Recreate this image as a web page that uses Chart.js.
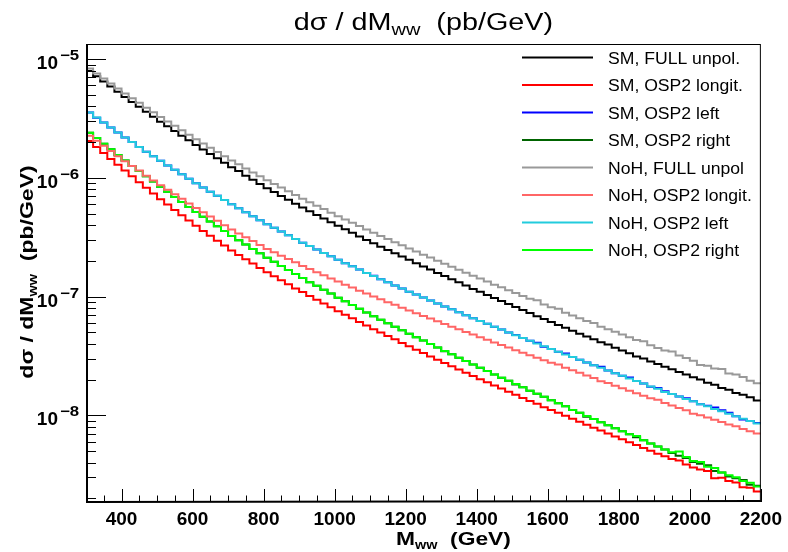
<!DOCTYPE html>
<html><head><meta charset="utf-8">
<script src="https://cdn.jsdelivr.net/npm/chart.js@4.4.1/dist/chart.umd.min.js"></script>
<style>html,body{margin:0;padding:0;background:#fff;}canvas{display:block;}</style>
</head><body>
<canvas id="c" width="788" height="552" style="width:788px;height:552px"></canvas>
<script>
// ---- data ----
const binEdges = [300,320,340,360,380,400,420,440,460,480,500,520,540,560,580,600,620,640,660,680,
700,720,740,760,780,800,820,840,860,880,900,920,940,960,980,1000,1020,1040,1060,1080,
1100,1120,1140,1160,1180,1200,1220,1240,1260,1280,1300,1320,1340,1360,1380,1400,1420,1440,1460,1480,
1500,1520,1540,1560,1580,1600,1620,1640,1660,1680,1700,1720,1740,1760,1780,1800,1820,1840,1860,1880,
1900,1920,1940,1960,1980,2000,2020,2040,2060,2080,2100,2120,2140,2160,2180,2200];

const smFull = [7.94e-6,7.18e-6,6.49e-6,5.87e-6,5.31e-6,4.80e-6,4.36e-6,3.96e-6,3.60e-6,3.27e-6,
2.97e-6,2.72e-6,2.48e-6,2.26e-6,2.07e-6,1.89e-6,1.73e-6,1.59e-6,1.46e-6,1.34e-6,
1.23e-6,1.14e-6,1.04e-6,9.64e-7,8.87e-7,8.18e-7,7.59e-7,7.03e-7,6.53e-7,6.05e-7,
5.61e-7,5.22e-7,4.86e-7,4.54e-7,4.23e-7,3.94e-7,3.68e-7,3.44e-7,3.21e-7,3.00e-7,
2.81e-7,2.63e-7,2.47e-7,2.32e-7,2.17e-7,2.04e-7,1.91e-7,1.79e-7,1.69e-7,1.58e-7,
1.49e-7,1.40e-7,1.32e-7,1.24e-7,1.16e-7,1.10e-7,1.03e-7,9.73e-8,9.18e-8,8.65e-8,
8.15e-8,7.69e-8,7.26e-8,6.84e-8,6.46e-8,6.10e-8,5.77e-8,5.45e-8,5.15e-8,4.86e-8,
4.60e-8,4.37e-8,4.13e-8,3.95e-8,3.71e-8,3.52e-8,3.33e-8,3.13e-8,3.00e-8,2.84e-8,
2.70e-8,2.56e-8,2.44e-8,2.31e-8,2.20e-8,2.09e-8,2.00e-8,1.88e-8,1.81e-8,1.70e-8,
1.64e-8,1.54e-8,1.49e-8,1.42e-8,1.33e-8];

const smLong = [2.04e-6,1.82e-6,1.62e-6,1.44e-6,1.29e-6,1.15e-6,1.03e-6,9.18e-7,8.24e-7,7.38e-7,
6.61e-7,5.96e-7,5.37e-7,4.84e-7,4.37e-7,3.94e-7,3.57e-7,3.25e-7,2.95e-7,2.69e-7,
2.44e-7,2.24e-7,2.06e-7,1.90e-7,1.74e-7,1.60e-7,1.48e-7,1.37e-7,1.27e-7,1.17e-7,
1.09e-7,1.01e-7,9.38e-8,8.73e-8,8.11e-8,7.53e-8,7.03e-8,6.55e-8,6.11e-8,5.69e-8,
5.31e-8,4.97e-8,4.65e-8,4.36e-8,4.07e-8,3.81e-8,3.57e-8,3.35e-8,3.13e-8,2.94e-8,
2.75e-8,2.59e-8,2.43e-8,2.28e-8,2.14e-8,2.01e-8,1.90e-8,1.78e-8,1.68e-8,1.58e-8,
1.49e-8,1.40e-8,1.32e-8,1.25e-8,1.17e-8,1.11e-8,1.05e-8,9.89e-9,9.33e-9,8.81e-9,
8.32e-9,7.85e-9,7.43e-9,7.01e-9,6.64e-9,6.27e-9,5.93e-9,5.61e-9,5.31e-9,5.02e-9,
4.75e-9,4.51e-9,4.28e-9,4.15e-9,3.84e-9,3.64e-9,3.50e-9,3.40e-9,2.95e-9,2.98e-9,
2.80e-9,2.72e-9,2.48e-9,2.45e-9,2.28e-9];

const smLeft = [3.55e-6,3.20e-6,2.92e-6,2.65e-6,2.41e-6,2.19e-6,2.00e-6,1.82e-6,1.66e-6,1.52e-6,
1.39e-6,1.27e-6,1.17e-6,1.07e-6,9.82e-7,8.99e-7,8.30e-7,7.64e-7,7.05e-7,6.50e-7,
5.98e-7,5.55e-7,5.13e-7,4.75e-7,4.40e-7,4.07e-7,3.79e-7,3.53e-7,3.28e-7,3.05e-7,
2.84e-7,2.66e-7,2.49e-7,2.33e-7,2.18e-7,2.04e-7,1.91e-7,1.80e-7,1.69e-7,1.58e-7,
1.50e-7,1.40e-7,1.32e-7,1.24e-7,1.17e-7,1.10e-7,1.04e-7,9.82e-8,9.27e-8,8.73e-8,
8.24e-8,7.80e-8,7.36e-8,6.97e-8,6.58e-8,6.22e-8,5.89e-8,5.57e-8,5.27e-8,4.99e-8,
4.75e-8,4.48e-8,4.25e-8,4.08e-8,3.78e-8,3.61e-8,3.43e-8,3.32e-8,3.10e-8,2.93e-8,
2.78e-8,2.64e-8,2.56e-8,2.38e-8,2.26e-8,2.15e-8,2.08e-8,1.94e-8,1.85e-8,1.74e-8,
1.70e-8,1.59e-8,1.51e-8,1.44e-8,1.39e-8,1.31e-8,1.24e-8,1.20e-8,1.16e-8,1.10e-8,
1.05e-8,9.82e-9,9.20e-9,8.93e-9,8.60e-9];

const smRight = [2.40e-6,2.16e-6,1.94e-6,1.74e-6,1.56e-6,1.40e-6,1.26e-6,1.14e-6,1.03e-6,9.31e-7,
8.39e-7,7.62e-7,6.90e-7,6.27e-7,5.68e-7,5.15e-7,4.70e-7,4.28e-7,3.90e-7,3.56e-7,
3.24e-7,2.98e-7,2.74e-7,2.52e-7,2.31e-7,2.12e-7,1.96e-7,1.81e-7,1.67e-7,1.55e-7,
1.43e-7,1.32e-7,1.23e-7,1.14e-7,1.06e-7,9.79e-8,9.12e-8,8.49e-8,7.89e-8,7.35e-8,
6.84e-8,6.38e-8,5.97e-8,5.57e-8,5.21e-8,4.86e-8,4.55e-8,4.26e-8,3.98e-8,3.72e-8,
3.46e-8,3.27e-8,3.05e-8,2.86e-8,2.68e-8,2.51e-8,2.36e-8,2.21e-8,2.07e-8,1.95e-8,
1.82e-8,1.72e-8,1.61e-8,1.52e-8,1.43e-8,1.34e-8,1.26e-8,1.19e-8,1.11e-8,1.05e-8,
9.70e-9,9.29e-9,8.75e-9,8.26e-9,7.78e-9,7.33e-9,6.92e-9,6.52e-9,6.15e-9,5.79e-9,
5.47e-9,5.16e-9,4.80e-9,4.55e-9,4.37e-9,4.05e-9,3.90e-9,3.80e-9,3.40e-9,3.30e-9,
3.05e-9,2.95e-9,2.85e-9,2.60e-9,2.55e-9];

const noHFull = [8.32e-6,7.55e-6,6.86e-6,6.22e-6,5.65e-6,5.13e-6,4.68e-6,4.28e-6,3.90e-6,3.56e-6,
3.25e-6,2.98e-6,2.74e-6,2.51e-6,2.30e-6,2.11e-6,1.95e-6,1.79e-6,1.65e-6,1.52e-6,
1.40e-6,1.30e-6,1.20e-6,1.11e-6,1.03e-6,9.55e-7,8.89e-7,8.28e-7,7.69e-7,7.16e-7,
6.67e-7,6.24e-7,5.82e-7,5.45e-7,5.08e-7,4.75e-7,4.46e-7,4.18e-7,3.92e-7,3.67e-7,
3.44e-7,3.24e-7,3.05e-7,2.87e-7,2.70e-7,2.54e-7,2.39e-7,2.25e-7,2.13e-7,2.00e-7,
1.89e-7,1.78e-7,1.68e-7,1.59e-7,1.50e-7,1.42e-7,1.34e-7,1.26e-7,1.20e-7,1.13e-7,
1.07e-7,1.01e-7,9.57e-8,9.30e-8,8.59e-8,8.13e-8,7.90e-8,7.29e-8,6.92e-8,6.55e-8,
6.21e-8,6.00e-8,5.58e-8,5.31e-8,5.04e-8,4.78e-8,4.54e-8,4.31e-8,4.20e-8,3.88e-8,
3.69e-8,3.51e-8,3.45e-8,3.18e-8,3.03e-8,2.88e-8,2.65e-8,2.61e-8,2.48e-8,2.45e-8,
2.25e-8,2.20e-8,2.10e-8,1.95e-8,1.86e-8];

const noHLong = [2.26e-6,2.05e-6,1.86e-6,1.68e-6,1.52e-6,1.38e-6,1.26e-6,1.15e-6,1.04e-6,9.51e-7,
8.67e-7,7.94e-7,7.26e-7,6.65e-7,6.08e-7,5.57e-7,5.13e-7,4.72e-7,4.34e-7,3.99e-7,
3.67e-7,3.40e-7,3.16e-7,2.93e-7,2.72e-7,2.52e-7,2.36e-7,2.21e-7,2.07e-7,1.94e-7,
1.81e-7,1.71e-7,1.60e-7,1.51e-7,1.42e-7,1.34e-7,1.26e-7,1.19e-7,1.12e-7,1.06e-7,
1.00e-7,9.48e-8,8.97e-8,8.51e-8,8.05e-8,7.64e-8,7.24e-8,6.87e-8,6.52e-8,6.18e-8,
5.86e-8,5.57e-8,5.30e-8,5.02e-8,4.78e-8,4.54e-8,4.32e-8,4.11e-8,3.91e-8,3.72e-8,
3.53e-8,3.37e-8,3.21e-8,3.05e-8,2.91e-8,2.77e-8,2.68e-8,2.51e-8,2.39e-8,2.28e-8,
2.16e-8,2.06e-8,1.93e-8,1.87e-8,1.77e-8,1.69e-8,1.61e-8,1.53e-8,1.46e-8,1.39e-8,
1.35e-8,1.27e-8,1.21e-8,1.15e-8,1.10e-8,1.03e-8,1.00e-8,9.59e-9,9.18e-9,8.77e-9,
8.38e-9,8.10e-9,7.66e-9,7.33e-9,7.01e-9];

const noHLeft = [3.55e-6,3.22e-6,2.92e-6,2.65e-6,2.41e-6,2.19e-6,2.00e-6,1.82e-6,1.66e-6,1.52e-6,
1.39e-6,1.27e-6,1.17e-6,1.07e-6,9.82e-7,8.99e-7,8.30e-7,7.64e-7,7.05e-7,6.50e-7,
5.98e-7,5.55e-7,5.13e-7,4.75e-7,4.40e-7,4.07e-7,3.79e-7,3.53e-7,3.28e-7,3.05e-7,
2.84e-7,2.66e-7,2.49e-7,2.33e-7,2.18e-7,2.04e-7,1.91e-7,1.80e-7,1.69e-7,1.58e-7,
1.49e-7,1.40e-7,1.32e-7,1.24e-7,1.17e-7,1.10e-7,1.04e-7,9.82e-8,9.27e-8,8.73e-8,
8.24e-8,7.80e-8,7.36e-8,6.97e-8,6.58e-8,6.22e-8,5.89e-8,5.57e-8,5.27e-8,4.99e-8,
4.72e-8,4.48e-8,4.25e-8,4.02e-8,3.81e-8,3.61e-8,3.43e-8,3.25e-8,3.09e-8,2.93e-8,
2.78e-8,2.64e-8,2.51e-8,2.38e-8,2.26e-8,2.15e-8,2.04e-8,1.94e-8,1.85e-8,1.75e-8,
1.67e-8,1.57e-8,1.51e-8,1.44e-8,1.37e-8,1.31e-8,1.24e-8,1.19e-8,1.13e-8,1.08e-8,
1.03e-8,9.82e-9,9.35e-9,8.93e-9,8.53e-9];

const noHRight = [2.40e-6,2.16e-6,1.94e-6,1.74e-6,1.56e-6,1.40e-6,1.26e-6,1.14e-6,1.03e-6,9.31e-7,
8.39e-7,7.62e-7,6.90e-7,6.27e-7,5.68e-7,5.15e-7,4.70e-7,4.28e-7,3.90e-7,3.56e-7,
3.24e-7,2.98e-7,2.74e-7,2.52e-7,2.31e-7,2.12e-7,1.96e-7,1.81e-7,1.67e-7,1.55e-7,
1.43e-7,1.32e-7,1.23e-7,1.14e-7,1.06e-7,9.79e-8,9.12e-8,8.49e-8,7.89e-8,7.35e-8,
6.84e-8,6.38e-8,5.97e-8,5.57e-8,5.21e-8,4.86e-8,4.55e-8,4.26e-8,3.98e-8,3.72e-8,
3.48e-8,3.27e-8,3.05e-8,2.86e-8,2.68e-8,2.51e-8,2.36e-8,2.21e-8,2.07e-8,1.95e-8,
1.83e-8,1.72e-8,1.61e-8,1.52e-8,1.43e-8,1.34e-8,1.26e-8,1.19e-8,1.11e-8,1.05e-8,
9.86e-9,9.29e-9,8.75e-9,8.26e-9,7.78e-9,7.33e-9,6.92e-9,6.70e-9,6.15e-9,5.79e-9,
5.47e-9,5.16e-9,4.89e-9,4.95e-9,4.45e-9,4.12e-9,4.05e-9,3.69e-9,3.60e-9,3.30e-9,
3.12e-9,3.00e-9,2.79e-9,2.70e-9,2.51e-9];

const seriesLabels = ['SM, FULL unpol.','SM, OSP2 longit.','SM, OSP2 left','SM, OSP2 right',
  'NoH, FULL unpol','NoH, OSP2 longit.','NoH, OSP2 left','NoH, OSP2 right'];
const seriesValues = [smFull, smLong, smLeft, smRight, noHFull, noHLong, noHLeft, noHRight];
const seriesColors = ['#000000','#ff0000','#0000ff','#006400','#999999','#ff6666','#22ccdd','#00ff00'];

const xTicks = [400,600,800,1000,1200,1400,1600,1800,2000,2200];
const yTicks = [1e-8,1e-7,1e-6,1e-5];
const xMin = 300, xMax = 2200, yMin = 1.86e-9, yMax = 1.34e-5;

// ---- build ----
const FONT = "'Liberation Sans', Arial, Helvetica, sans-serif";
function histPoints(vals){
  const pts = vals.map((v,i)=>({x: binEdges[i], y: v}));
  pts.push({x: binEdges[vals.length], y: vals[vals.length-1]});
  return pts;
}
const datasets = seriesValues.map((vals,i)=>({
  label: seriesLabels[i],
  data: histPoints(vals),
  borderColor: seriesColors[i],
  backgroundColor: seriesColors[i],
  borderWidth: 2,
  pointRadius: 0,
  stepped: true,
  fill: false,
  order: i < 4 ? 1 : 0
}));

function drawRuns(ctx, runs, x, y, align, sx){
  let W = 0;
  runs.forEach(r=>{ ctx.font = r.f; r.w = ctx.measureText(r.t).width; W += r.w; });
  ctx.save();
  ctx.translate(x, y);
  ctx.scale(sx, 1);
  let cx = align === 'center' ? -W/2 : (align === 'right' ? -W : 0);
  ctx.textBaseline = 'alphabetic';
  ctx.textAlign = 'left';
  runs.forEach(r=>{ ctx.font = r.f; ctx.fillText(r.t, cx, r.dy||0); cx += r.w; });
  ctx.restore();
}

const decor = {
  id: 'decor',
  afterDraw(chart){
    const ctx = chart.ctx, a = chart.chartArea;
    const xs = chart.scales.x, ys = chart.scales.y;
    ctx.save();
    ctx.fillStyle = '#000'; ctx.strokeStyle = '#000';
    // frame
    ctx.lineWidth = 1;
    ctx.strokeRect(a.left+0.5, a.top+0.5, a.right-a.left-1, a.bottom-a.top-1);
    ctx.lineWidth = 2;
    ctx.beginPath();
    ctx.moveTo(a.left+1, a.top); ctx.lineTo(a.left+1, a.bottom);
    ctx.lineTo(a.right, a.bottom-1);
    ctx.stroke();
    // x ticks
    ctx.lineWidth = 1;
    ctx.beginPath();
    for (let v = xMin + 50; v < xMax + 1; v += 50){
      const px = Math.round(xs.getPixelForValue(v)) + 0.5;
      const len = (v % 200 === 0) ? 13 : 6.5;
      ctx.moveTo(px, a.bottom); ctx.lineTo(px, a.bottom - len);
    }
    // y ticks
    for (let e = -9; e <= -5; e++){
      for (let m = 1; m <= 9; m++){
        const v = m * Math.pow(10, e);
        if (v < yMin || v > yMax) continue;
        const py = Math.round(ys.getPixelForValue(v)) + 0.5;
        const len = m === 1 ? 20 : 10;
        ctx.moveTo(a.left, py); ctx.lineTo(a.left + len, py);
      }
    }
    ctx.stroke();
    // y tick labels
    yTicks.forEach(v=>{
      const py = ys.getPixelForValue(v);
      const ex = Math.round(Math.log10(v));
      ctx.font = 'bold 19px ' + FONT;
      ctx.textAlign = 'right'; ctx.textBaseline = 'alphabetic';
      ctx.fillText('10', 58, py + 10);
      ctx.save();
      ctx.translate(60, py + 1); ctx.scale(1.2, 1);
      ctx.font = 'bold 14px ' + FONT; ctx.textAlign = 'left';
      ctx.fillText('\u2212' + Math.abs(ex), 0, 0);
      ctx.restore();
    });
    // title
    drawRuns(ctx, [
      {t:'d\u03c3 / dM', f:'23px ' + FONT},
      {t:'ww', f:'16px ' + FONT, dy:5},
      {t:'  (pb/GeV)', f:'23px ' + FONT}
    ], (a.left + a.right)/2, 29.5, 'center', 1.25);
    // x title
    drawRuns(ctx, [
      {t:'M', f:'bold 19px ' + FONT},
      {t:'ww', f:'bold 12px ' + FONT, dy:4},
      {t:'  (GeV)', f:'bold 19px ' + FONT}
    ], (a.left + a.right)/2 + 30, 545, 'center', 1.2);
    // y title
    ctx.save();
    ctx.translate(33, 272); ctx.rotate(-Math.PI/2);
    drawRuns(ctx, [
      {t:'d\u03c3 / dM', f:'bold 19px ' + FONT},
      {t:'ww', f:'bold 12px ' + FONT, dy:4},
      {t:'  (pb/GeV)', f:'bold 19px ' + FONT}
    ], 0, 0, 'center', 1.21);
    ctx.restore();
    // legend
    chart.data.datasets.forEach((ds, i)=>{
      const ly = 57.5 + i * 27.5;
      ctx.strokeStyle = ds.borderColor; ctx.lineWidth = 2;
      ctx.beginPath(); ctx.moveTo(522, ly); ctx.lineTo(593, ly); ctx.stroke();
      ctx.fillStyle = '#000';
      ctx.save(); ctx.translate(608, ly + 6); ctx.scale(1.1, 1);
      ctx.font = '16px ' + FONT; ctx.textAlign = 'left'; ctx.textBaseline = 'alphabetic';
      ctx.fillText(ds.label, 0, 0);
      ctx.restore();
    });
    ctx.restore();
  }
};

new Chart(document.getElementById('c'), {
  type: 'line',
  data: { datasets },
  options: {
    responsive: false,
    animation: false,
    devicePixelRatio: 1,
    layout: { padding: { left: 0, top: 44, right: 26, bottom: 0 } },
    plugins: { legend: { display: false }, title: { display: false }, tooltip: { enabled: false } },
    scales: {
      x: {
        type: 'linear', min: xMin, max: xMax,
        grid: { display: false, drawTicks: false },
        border: { display: false },
        afterBuildTicks: s => { s.ticks = xTicks.map(v => ({ value: v })); },
        afterFit: s => { s.height = 50; },
        ticks: { color: '#000', font: { family: FONT, size: 19, weight: 'bold' }, padding: 6, maxRotation: 0, autoSkip: false,
                 callback: v => String(v) }
      },
      y: {
        type: 'logarithmic', min: yMin, max: yMax,
        grid: { display: false, drawTicks: false },
        border: { display: false },
        ticks: { display: false },
        afterFit: s => { s.width = 86; }
      }
    }
  },
  plugins: [decor]
});
</script>
</body></html>
